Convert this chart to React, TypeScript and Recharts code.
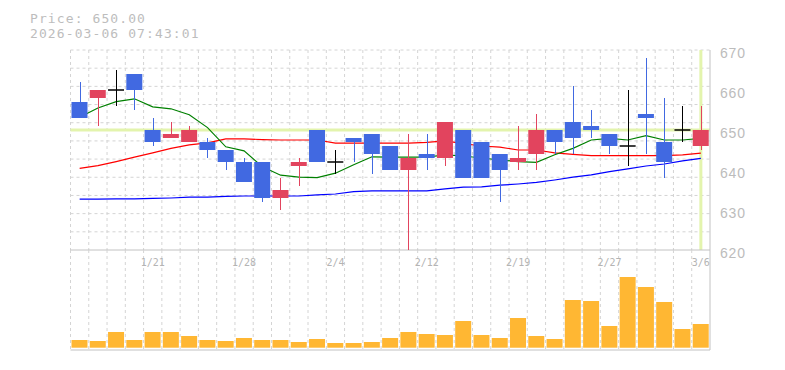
import React from 'react';
import { ComposedChart, Bar, Line, XAxis, YAxis, CartesianGrid, ReferenceLine } from 'recharts';

// trading days, 2026-01-15 .. 2026-03-06
const dates = [
  '1/15', '1/16', '1/19', '1/20', '1/21', '1/22', '1/23', '1/26', '1/27', '1/28',
  '1/29', '1/30', '2/2', '2/3', '2/4', '2/5', '2/6', '2/9', '2/10', '2/12',
  '2/13', '2/16', '2/17', '2/18', '2/19', '2/20', '2/24', '2/25', '2/26', '2/27',
  '3/2', '3/3', '3/4', '3/5', '3/6',
];
const tickDates = ['1/21', '1/28', '2/4', '2/12', '2/19', '2/27', '3/6'];

const opens = [657, 658, 660, 664, 650, 648, 647, 647, 645, 642, 642, 633, 641, 650, 642, 648, 649, 646, 640, 644, 643, 650, 647, 644, 642, 644, 650, 652, 651, 649, 646, 654, 647, 650, 646];
const closes = [653, 660, 660, 660, 647, 649, 650, 645, 642, 637, 633, 635, 642, 642, 642, 647, 644, 640, 643, 643, 652, 638, 638, 640, 643, 650, 647, 648, 650, 646, 646, 653, 642, 650, 650];
const highs = [662, 660, 665, 664, 653, 652, 651, 648, 645, 643, 642, 638, 643, 650, 645, 648, 649, 646, 649, 649, 652, 650, 647, 644, 651, 654, 650, 661, 655, 649, 660, 668, 658, 656, 656];
const lows = [653, 651, 656, 655, 646, 648, 647, 643, 640, 637, 632, 630, 636, 642, 639, 642, 639, 640, 620, 640, 641, 638, 638, 632, 640, 640, 644, 644, 648, 644, 641, 644, 638, 647, 645];

const ma5 = [653.2, 655.5, 657.1, 657.8, 655.8, 655.3, 653.8, 650.6, 645.8, 644.8, 640.8, 638.7, 638.2, 638.1, 639.2, 641.3, 643.3, 643.2, 643.2, 643.2, 643.8, 643.5, 643.0, 642.5, 642.1, 641.9, 643.8, 645.4, 647.5, 647.9, 647.5, 648.6, 647.5, 647.5, 647.9];
const ma25 = [640.4, 641.1, 642.1, 643.2, 644.3, 645.4, 646.3, 646.8, 647.8, 647.8, 647.6, 647.5, 647.5, 647.5, 646.7, 646.7, 646.7, 646.7, 646.7, 646.9, 647.3, 646.6, 646.0, 645.7, 645.0, 645.0, 644.3, 643.9, 643.6, 643.6, 643.6, 643.6, 643.6, 643.8, 644.2];
const ma75 = [632.7, 632.7, 632.8, 632.8, 632.9, 633.0, 633.2, 633.2, 633.4, 633.5, 633.5, 633.5, 633.5, 633.8, 634.0, 634.6, 634.8, 634.8, 634.8, 634.8, 635.3, 635.7, 635.8, 636.2, 636.5, 636.9, 637.5, 638.2, 638.8, 639.6, 640.3, 641.0, 641.5, 642.3, 642.9];

const volumes = [7700, 6700, 15700, 7700, 15700, 15700, 11700, 7700, 6700, 9700, 7700, 7700, 5700, 8700, 4700, 4700, 5700, 9700, 15700, 13700, 12700, 26700, 12700, 9700, 29700, 11700, 8700, 47700, 46700, 21700, 70700, 60700, 45700, 18700, 23700];

const priceTicks = [620, 630, 640, 650, 660, 670];
const lastPrice = closes[closes.length - 1];
const timestamp = '2026-03-06 07:43:01';

const UP = '#e2445e';
const DOWN = '#4169e1';
const GRID = '#d4d4d4';
const FRAME = '#c2c2c2';
const NOW = '#e3f4ad';

const data = dates.map((d, i) => ({
  d,
  open: opens[i],
  close: closes[i],
  high: highs[i],
  low: lows[i],
  range: [lows[i], highs[i]],
  ma5: ma5[i],
  ma25: ma25[i],
  ma75: ma75[i],
  vol: volumes[i],
}));

// dashed grid lines sit on the boundaries between days
const vGen = ({ offset }: any) => {
  const left = offset ? offset.left : 70.5;
  const width = offset ? offset.width : 639.5;
  return dates.map((_, i) => left + (i * width) / dates.length);
};
const hGen = ({ offset }: any) => {
  const top = offset ? offset.top : 50;
  const height = offset ? offset.height : 200;
  return Array.from({ length: 11 }, (_, k) => top + (k * height) / 11);
};

const Candle = (props: any) => {
  const { x, y, width, height, payload } = props;
  const { open, close, high, low } = payload;
  const top = Math.min(y, y + height);
  const h = Math.abs(height);
  const k = high === low ? 0 : h / (high - low);
  const yOf = (v: number) => top + (high - v) * k;
  const color = close > open ? UP : close < open ? DOWN : '#000';
  const cx = Math.round(x + width / 2) + 0.5;
  const bodyTop = yOf(Math.max(open, close));
  const bodyH = Math.abs(yOf(open) - yOf(close));
  return (
    <g>
      <line x1={cx} x2={cx} y1={top} y2={top + h} stroke={color} strokeWidth={1} />
      {bodyH < 1 ? (
        <line x1={x} x2={x + width} y1={bodyTop} y2={bodyTop} stroke={color} strokeWidth={1.5} />
      ) : (
        <rect x={x} y={bodyTop} width={width} height={bodyH} fill={color} />
      )}
    </g>
  );
};

const PriceTick = (props: any) => {
  const { x, y, payload } = props;
  return (
    <text x={x} y={y + 8} fill="#bcbcbc" fontSize={14} fontFamily="'Liberation Sans', Arial, sans-serif" letterSpacing={0.8}>
      {payload.value}
    </text>
  );
};

const DateTick = (props: any) => {
  const { x, y, payload } = props;
  return (
    <text x={x} y={y - 84} fill="#b4b4b4" fontSize={10} fontFamily="'DejaVu Sans Mono', monospace" textAnchor="middle">
      {payload.value}
    </text>
  );
};

export default function App() {
  return (
    <div style={{ position: 'absolute', left: 0, top: 0, width: 785, height: 370, background: '#fff' }}>
      <svg width={785} height={50} style={{ position: 'absolute', left: 0, top: 0 }}>
        <text x={30} y={22.7} fill="#bdbdbd" fontSize={13} fontFamily="'DejaVu Sans Mono', monospace" letterSpacing={1.1}>
          {`Price: ${lastPrice.toFixed(2)}`}
        </text>
        <text x={30} y={37.7} fill="#bdbdbd" fontSize={13} fontFamily="'DejaVu Sans Mono', monospace" letterSpacing={1.1}>
          {timestamp}
        </text>
      </svg>

      <div style={{ position: 'absolute', left: 0, top: 0 }}>
        <ComposedChart width={785} height={265} data={data} margin={{ top: 50, right: 0, bottom: 15, left: 70.5 }} barSize={16}>
          <CartesianGrid stroke={GRID} strokeDasharray="3 3" verticalCoordinatesGenerator={vGen} horizontalCoordinatesGenerator={hGen} />
          <XAxis dataKey="d" hide />
          <YAxis
            orientation="right"
            width={75}
            domain={[620, 670]}
            ticks={priceTicks}
            allowDataOverflow
            axisLine={{ stroke: FRAME }}
            tickLine={false}
            tickSize={0}
            tickMargin={10}
            tick={<PriceTick />}
          />
          <ReferenceLine y={lastPrice} stroke={NOW} strokeWidth={3} zIndex={50} />
          <ReferenceLine x={dates[dates.length - 1]} stroke={NOW} strokeWidth={3} zIndex={50} />
          <ReferenceLine y={620} stroke={FRAME} zIndex={50} />
          <Line dataKey="ma75" stroke="#0000ff" strokeWidth={1.2} dot={false} isAnimationActive={false} zIndex={400} />
          <Line dataKey="ma25" stroke="#ff0000" strokeWidth={1.2} dot={false} isAnimationActive={false} zIndex={400} />
          <Line dataKey="ma5" stroke="#008000" strokeWidth={1.2} dot={false} isAnimationActive={false} zIndex={400} />
          <Bar dataKey="range" shape={<Candle />} isAnimationActive={false} zIndex={450} />
        </ComposedChart>
      </div>

      <div style={{ position: 'absolute', left: 0, top: 250 }}>
        <ComposedChart width={785} height={120} data={data} margin={{ top: 0, right: 0, bottom: 0, left: 70.5 }} barSize={16}>
          <CartesianGrid stroke={GRID} strokeDasharray="3 3" horizontal={false} verticalCoordinatesGenerator={vGen} />
          <XAxis
            dataKey="d"
            ticks={tickDates}
            interval={0}
            axisLine={false}
            tickLine={false}
            tickSize={0}
            tickMargin={0}
            height={20}
            tick={<DateTick />}
          />
          <YAxis
            orientation="right"
            width={75}
            domain={[-2300, 97700]}
            allowDataOverflow
            tick={false}
            tickLine={false}
            axisLine={{ stroke: FRAME }}
          />
          <ReferenceLine y={-2300} stroke={FRAME} />
          <Bar dataKey="vol" fill="#ffb733" isAnimationActive={false} />
        </ComposedChart>
      </div>
    </div>
  );
}
